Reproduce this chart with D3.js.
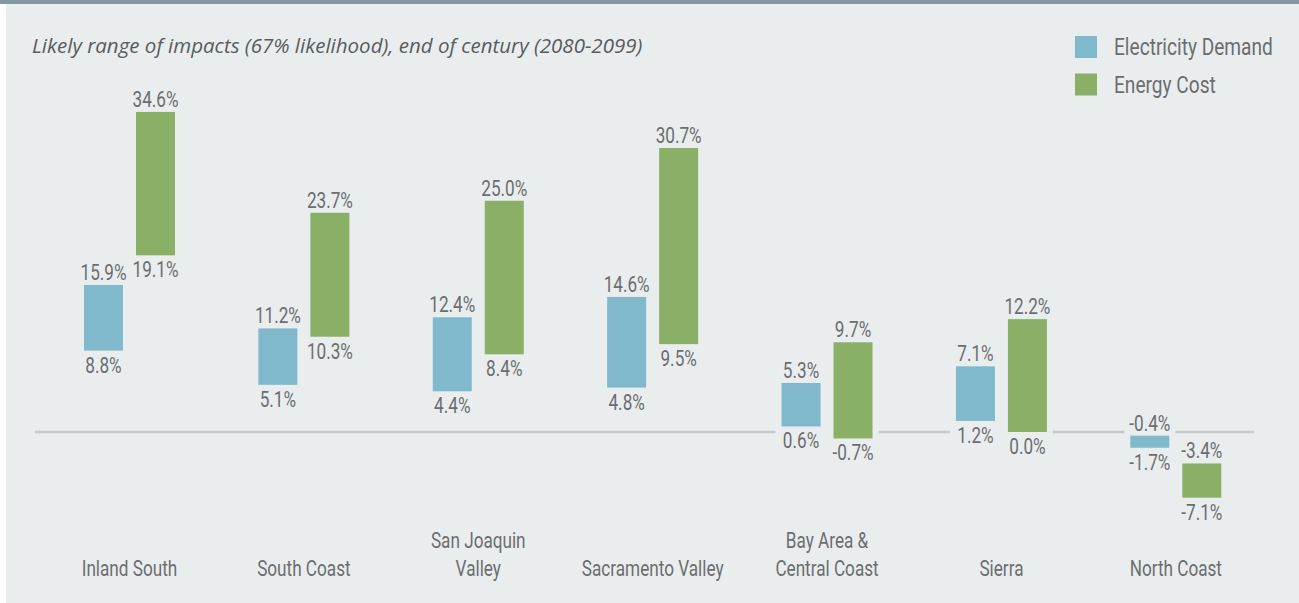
<!DOCTYPE html>
<html>
<head>
<meta charset="utf-8">
<script src="https://cdn.jsdelivr.net/npm/d3@7/dist/d3.min.js"></script>
<style>
  html, body { margin: 0; padding: 0; background: #ffffff; }
  svg { display: block; }
</style>
</head>
<body>
<script>
// regions along the x axis, "\n" splits a label over two lines
var regions = ["Inland South", "South Coast", "San Joaquin\nValley", "Sacramento Valley",
  "Bay Area &\nCentral Coast", "Sierra", "North Coast"];
var series = ["Electricity Demand", "Energy Cost"];

// likely range, low and high end, in percent
var demandLow = [8.8, 5.1, 4.4, 4.8, 0.6, 1.2, -1.7];
var demandHigh = [15.9, 11.2, 12.4, 14.6, 5.3, 7.1, -0.4];
var costLow = [19.1, 10.3, 8.4, 9.5, -0.7, 0.0, -7.1];
var costHigh = [34.6, 23.7, 25.0, 30.7, 9.7, 12.2, -3.4];

var title = "Likely range of impacts (67% likelihood), end of century (2080-2099)";

function draw() {
  var size = { width: 1299, height: 603 };
  var colors = { "Electricity Demand": "#7fb9cb", "Energy Cost": "#8aaf67" };
  var bg = "#e9edee";
  var textColor = "#6b6d70";
  var font = "Roboto, sans-serif";
  var squeeze = 0.78; // condensed look, no narrow font installed

  var rows = [];
  regions.forEach(function(r, i) {
    rows.push({ region: r, key: series[0], low: demandLow[i], high: demandHigh[i] });
    rows.push({ region: r, key: series[1], low: costLow[i], high: costHigh[i] });
  });

  var svg = d3.select("body").append("svg")
    .attr("width", size.width)
    .attr("height", size.height);

  // panel background + top band
  svg.append("rect")
    .attr("x", 6).attr("y", 0)
    .attr("width", size.width - 6).attr("height", size.height)
    .attr("fill", bg);
  svg.append("rect")
    .attr("x", 0).attr("y", 0)
    .attr("width", size.width).attr("height", 4)
    .attr("fill", "#8497a5");

  var x = d3.scaleBand().domain(regions).range([42.3, 1263]);
  var x1 = d3.scaleBand().domain(series).range([-45.5, 45.5]).paddingInner(0.25);
  var y = d3.scaleLinear().domain([-10, 40]).range([524.5, 62]);

  // zero line
  svg.append("line")
    .attr("x1", 35).attr("x2", 1254)
    .attr("y1", y(0)).attr("y2", y(0))
    .attr("stroke", "#c5c9ca")
    .attr("stroke-width", 2.5);

  // knock the line out where a column (bar + its labels) crosses it
  var labelTop = function(d) { return y(d.high) - 5 - 16; };
  var labelBottom = function(d) { return y(d.low) + 24; };
  var crosses = function(d) { return labelTop(d) < y(0) && labelBottom(d) > y(0); };

  var gaps = regions.map(function(r) {
    var hit = rows.filter(function(d) { return d.region == r && crosses(d); });
    if (!hit.length) return null;
    var cx = x(r) + x.bandwidth() / 2;
    var left = d3.min(hit, function(d) { return cx + x1(d.key); }) - 6;
    var right = d3.max(hit, function(d) { return cx + x1(d.key) + x1.bandwidth(); }) + 6;
    return [left, right];
  }).filter(function(g) { return g; });

  svg.selectAll(".gap")
    .data(gaps)
    .enter().append("rect")
    .attr("x", function(g) { return g[0]; })
    .attr("width", function(g) { return g[1] - g[0]; })
    .attr("y", y(0) - 3).attr("height", 6)
    .attr("fill", bg);

  var cols = svg.selectAll(".col")
    .data(rows)
    .enter().append("g")
    .attr("transform", function(d) {
      return "translate(" + (x(d.region) + x.bandwidth() / 2 + x1(d.key)) + ",0)";
    });

  cols.append("rect")
    .attr("x", 0)
    .attr("width", x1.bandwidth())
    .attr("y", function(d) { return y(d.high); })
    .attr("height", function(d) { return Math.max(1, y(d.low) - y(d.high)); })
    .attr("fill", function(d) { return colors[d.key]; });

  cols.append("text")
    .attr("transform", function(d) {
      return "translate(" + (x1.bandwidth() / 2) + "," + (y(d.high) - 5) + ") scale(" + squeeze + ",1)";
    })
    .text(function(d) { return d.high.toFixed(1) + "%"; });

  cols.append("text")
    .attr("transform", function(d) {
      return "translate(" + (x1.bandwidth() / 2) + "," + (y(d.low) + 22) + ") scale(" + squeeze + ",1)";
    })
    .text(function(d) { return d.low.toFixed(1) + "%"; });

  cols.selectAll("text")
    .attr("text-anchor", "middle")
    .attr("font-family", font)
    .attr("font-size", 22)
    .attr("fill", textColor);

  // region names
  var names = svg.selectAll(".name")
    .data(regions)
    .enter().append("text")
    .attr("text-anchor", "middle")
    .attr("font-family", font)
    .attr("font-size", 22)
    .attr("fill", textColor)
    .attr("transform", function(r) {
      return "translate(" + (x(r) + x.bandwidth() / 2) + ",576) scale(" + squeeze + ",1)";
    });

  names.selectAll("tspan")
    .data(function(r) { return r.split("\n").reverse(); })
    .enter().append("tspan")
    .attr("x", 0)
    .attr("y", function(t, i) { return -i * 28; })
    .text(function(t) { return t; });

  // title
  svg.append("text")
    .attr("x", 32).attr("y", 53)
    .attr("font-family", "'Open Sans', sans-serif")
    .attr("font-style", "italic")
    .attr("font-size", 20.5)
    .attr("fill", "#585c60")
    .text(title);

  // legend
  var legend = svg.selectAll(".legend")
    .data(series)
    .enter().append("g")
    .attr("transform", function(d, i) { return "translate(1075," + (36 + i * 37.5) + ")"; });

  legend.append("rect")
    .attr("width", 22).attr("height", 22)
    .attr("fill", function(d) { return colors[d]; });

  legend.append("text")
    .attr("transform", "translate(39,19) scale(" + squeeze + ",1)")
    .attr("font-family", font)
    .attr("font-size", 24.5)
    .attr("fill", textColor)
    .text(function(d) { return d; });
}

draw();
</script>
</body>
</html>
